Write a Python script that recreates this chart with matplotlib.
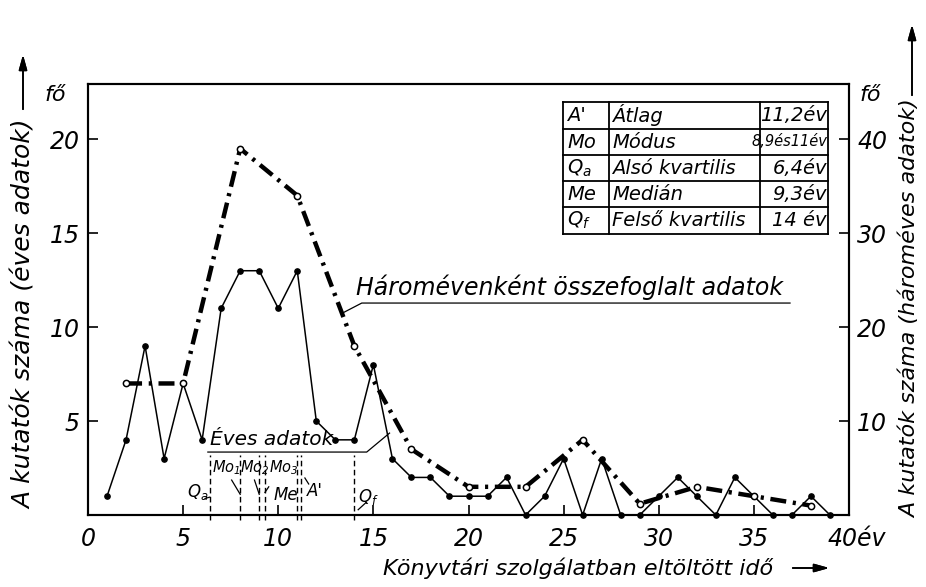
"""
Kutatók száma a könyvtári szolgálatban eltöltött idő szerint
"""

import matplotlib
matplotlib.use("Agg")
import matplotlib.pyplot as plt
from matplotlib.lines import Line2D
from matplotlib.transforms import ScaledTranslation

# --- data -------------------------------------------------------------
years = list(range(1, 40))
annual = [1, 4, 9, 3, 7, 4, 11, 13, 13, 11, 13, 5, 4, 4, 8, 3, 2, 2, 1, 1,
          1, 2, 0, 1, 3, 0, 3, 0, 0, 1, 2, 1, 0, 2, 1, 0, 0, 1, 0]

tri_mid = [2, 5, 8, 11, 14, 17, 20, 23, 26, 29, 32, 35, 38]
tri_vals = [14, 14, 39, 34, 18, 7, 3, 3, 8, 1.2, 3, 2, 1]

stat_symbols = ["A'", "Mo", "$Q_a$", "Me", "$Q_f$"]
stat_names = ["Átlag", "Módus", "Alsó kvartilis", "Medián", "Felső kvartilis"]
stat_values = ["11,2év", "8,9és11év", "6,4év", "9,3év", "14 év"]

# Qa, Mo1, Mo2, Me, Mo3, A', Qf
marker_pos = [6.4, 8, 9, 9.3, 11, 11.2, 14]

x_ticks = [0, 5, 10, 15, 20, 25, 30, 35, 40]
x_ticklabels = ["0", "5", "10", "15", "20", "25", "30", "35", "40év"]
y_ticks = [5, 10, 15, 20]
y2_ticks = [10, 20, 30, 40]

# --- style ------------------------------------------------------------
plt.rcParams["font.family"] = ["DejaVu Sans"]
plt.rcParams["font.style"] = "italic"
plt.rcParams["mathtext.fontset"] = "dejavusans"

W, H = 926, 587
fig = plt.figure(figsize=(W / 100, H / 100), dpi=100)


def fx(px):
    return px / W


def fy(py):
    return 1 - py / H


ax = fig.add_axes([fx(88), fy(515), (849 - 88) / W, (515 - 84) / H])
ax2 = ax.twinx()

ax.set_xlim(0, 40)
ax.set_ylim(0, 431 / 18.79)
ax2.set_ylim(0, 2 * 431 / 18.79)

for a in (ax, ax2):
    for sp in a.spines.values():
        sp.set_linewidth(1.5)

# annual data
ax.plot(years, annual, color="black", lw=1.1, marker="o", ms=3.8,
        mfc="black", mec="black", clip_on=False, zorder=4)

# three-year data
ax2.plot(tri_mid, tri_vals, color="black", lw=3.2, dashes=(3.6, 1.5, 0.7, 1.5),
         marker="o", ms=4.5, mfc="white", mec="black", mew=1.1, zorder=4)

# ticks
ax.set_xticks(x_ticks)
ax.set_xticklabels(x_ticklabels)
ax.set_yticks(y_ticks)
ax2.set_yticks(y2_ticks)
ax.tick_params(axis="both", direction="in", length=7, width=1.2, labelsize=17)
ax.tick_params(axis="x", pad=9)
ax.tick_params(axis="y", pad=6)
ax2.tick_params(axis="y", direction="in", length=7, width=1.2, labelsize=17, pad=6)
last = ax.get_xticklabels()[-1]
last.set_transform(last.get_transform() + ScaledTranslation(0.08, 0, fig.dpi_scale_trans))

# quartile / mode / mean markers
ax.vlines(marker_pos, -0.25, 3.2, colors="black", linestyles=(0, (4, 2.5)),
          lw=1.0, clip_on=False, zorder=2)
lbl = dict(ha="center", va="center", size=10.5)
ax.text(5.75, 1.2, "$Q_a$", ha="center", va="center", size=12)
ax.text(7.25, 2.5, "$Mo_1$", **lbl)
ax.text(8.75, 2.5, "$Mo_2$", **lbl)
ax.text(10.3, 2.5, "$Mo_3$", **lbl)
ax.text(10.4, 1.05, "Me", ha="center", va="center", size=12)
ax.text(11.9, 1.3, "A'", ha="center", va="center", size=12)
ax.text(14.75, 0.95, "$Q_f$", ha="center", va="center", size=12)
lead = dict(color="black", lw=0.9, clip_on=False)
ax.plot([6.15, 6.4], [0.88, 0.95], **lead)
ax.plot([7.55, 8.0], [1.86, 1.1], **lead)
ax.plot([8.75, 9.0], [1.86, 1.1], **lead)
ax.plot([9.3, 9.5], [1.2, 1.5], **lead)
ax.plot([11.4, 11.6], [1.97, 1.65], **lead)
ax.plot([14.2, 14.6], [0.28, 0.65], **lead)

# series labels
ax.text(6.4, 3.5, "Éves adatok", size=14.5, ha="left", va="bottom")
ax.plot([6.3, 14.65, 15.85], [3.35, 3.35, 4.36], color="black", lw=0.9)
ax.text(14.1, 11.45, "Háromévenként összefoglalt adatok", size=17,
        ha="left", va="bottom")
ax.plot([13.42, 14.39, 36.9], [10.77, 11.28, 11.28], color="black", lw=0.9)

# summary table
rows_y = [102, 129, 155, 181, 207, 234]
cols_x = [563, 609, 760, 828]
for y in rows_y:
    fig.add_artist(Line2D([fx(cols_x[0]), fx(cols_x[-1])], [fy(y), fy(y)],
                          color="black", lw=1.3))
for x in cols_x:
    fig.add_artist(Line2D([fx(x), fx(x)], [fy(rows_y[0]), fy(rows_y[-1])],
                          color="black", lw=1.3))
for i in range(len(stat_names)):
    yc = fy((rows_y[i] + rows_y[i + 1]) / 2)
    fig.text(fx(567), yc, stat_symbols[i], size=14, ha="left", va="center")
    fig.text(fx(612), yc, stat_names[i], size=14, ha="left", va="center")
    vsize = 10.5 if len(stat_values[i]) > 7 else 14
    fig.text(fx(827), yc, stat_values[i], size=vsize, ha="right", va="center")

# axis titles
fig.text(fx(55), fy(95), "fő", size=16, ha="center", va="center")
fig.text(fx(870), fy(95), "fő", size=16, ha="center", va="center")
fig.text(fx(25), fy(314), "A kutatók száma (éves adatok)", size=18,
         rotation=90, ha="center", va="center")
fig.text(fx(910), fy(309), "A kutatók száma (hároméves adatok)", size=16,
         rotation=90, ha="center", va="center")
fig.text(fx(578), fy(568), "Könyvtári szolgálatban eltöltött idő", size=16,
         ha="center", va="center")

arrow = dict(arrowstyle="-|>,head_length=0.9,head_width=0.25", color="black", lw=1.2)
fig.add_artist(plt.annotate("", xy=(fx(23), fy(52)), xytext=(fx(23), fy(112)),
                            xycoords="figure fraction", arrowprops=arrow))
fig.add_artist(plt.annotate("", xy=(fx(912), fy(22)), xytext=(fx(912), fy(98)),
                            xycoords="figure fraction", arrowprops=arrow))
fig.add_artist(plt.annotate("", xy=(fx(832), fy(568)), xytext=(fx(790), fy(568)),
                            xycoords="figure fraction", arrowprops=arrow))

fig.savefig("out.png", dpi=100)
plt.close(fig)
